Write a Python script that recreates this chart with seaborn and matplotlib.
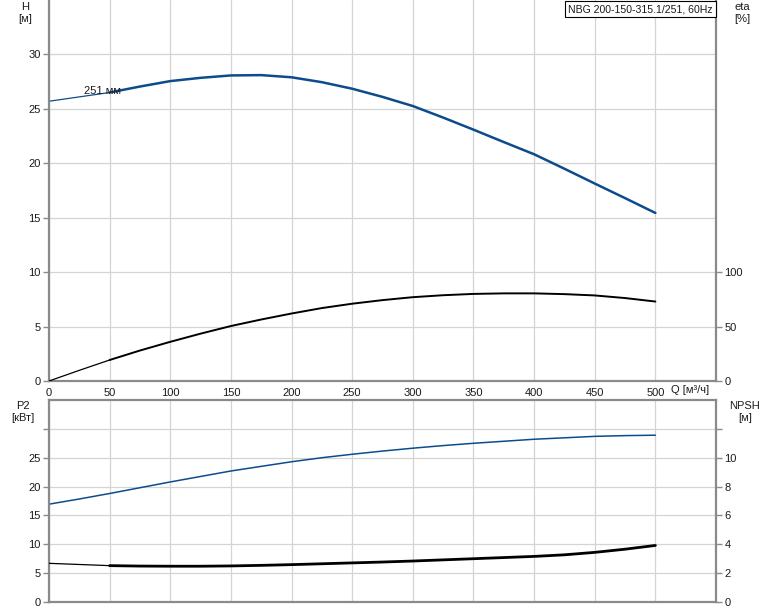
import seaborn as sns
import matplotlib.pyplot as plt
import numpy as np

# flow points [m3/h]
q = [0, 25, 50, 75, 100, 125, 150, 175, 200, 225, 250, 275, 300, 325,
     350, 375, 400, 425, 450, 475, 500]
# head [m]
head = [25.7, 26.1, 26.5, 27.05, 27.55, 27.85, 28.07, 28.1, 27.9, 27.45,
        26.85, 26.1, 25.26, 24.2, 23.09, 21.95, 20.83, 19.5, 18.14, 16.8, 15.44]
# efficiency [%]
eta = [0, 9.8, 19.3, 28, 36, 43.5, 50.5, 56.5, 62, 67, 71, 74.3, 77, 78.8,
       80, 80.5, 80.5, 79.8, 78.6, 76.2, 73]
# power P2 [kW]
p2 = [16.95, 17.85, 18.8, 19.8, 20.8, 21.75, 22.7, 23.5, 24.3, 25.0, 25.6,
      26.15, 26.65, 27.1, 27.5, 27.85, 28.2, 28.45, 28.7, 28.83, 28.9]
# NPSH [m]
npsh = [2.68, 2.6, 2.52, 2.49, 2.48, 2.48, 2.5, 2.54, 2.59, 2.65, 2.71,
        2.77, 2.84, 2.92, 3.0, 3.08, 3.16, 3.27, 3.44, 3.66, 3.92]

title = "NBG 200-150-315.1/251, 60Hz"
curve_label = "251 мм"

sns.set_style("white")
plt.rcParams['font.family'] = ['Liberation Sans', 'DejaVu Sans']

BLUE = "#0d4c8c"
SPINE = "#8a8a8a"
GRID = "#d4d4d4"
TXT = "#1a1a1a"

fig = plt.figure(figsize=(7.74, 6.11), dpi=100)
ax1 = fig.add_axes([49 / 774, 1 - 381 / 611, 667 / 774, 381 / 611])
ax2 = fig.add_axes([49 / 774, 1 - 602 / 611, 667 / 774, 202 / 611])
ax1r = ax1.twinx()
ax2r = ax2.twinx()

cut = 2  # first part of each curve (up to 50 m3/h) is drawn thin


def curve(ax, x, y, color, thick):
    sns.lineplot(x=x[:cut + 1], y=y[:cut + 1], ax=ax, color=color, lw=0.9)
    sns.lineplot(x=x[cut:], y=y[cut:], ax=ax, color=color, lw=thick)


curve(ax1, q, head, BLUE, 1.8)
curve(ax1r, q, eta, "black", 1.4)
sns.lineplot(x=q, y=p2, ax=ax2, color=BLUE, lw=1.1)
curve(ax2r, q, npsh, "black", 2.0)

ax1.text(29, 26.6, curve_label, fontsize=8, color=TXT, va="center")

for ax in (ax1, ax2):
    ax.set_xlim(0, 550)
    ax.set_xticks(np.arange(0, 501, 50))
    ax.grid(True, color=GRID, lw=0.9)
    ax.set_axisbelow(True)
    for s in ("left", "bottom", "right", "top"):
        ax.spines[s].set_color(SPINE)
        ax.spines[s].set_linewidth(1.6)
    ax.tick_params(axis="both", length=4, width=1, color=SPINE, labelsize=8,
                   labelcolor=TXT, pad=2)
    ax.set_xlabel("")
    ax.set_ylabel("")

ax1.spines["top"].set_visible(False)
ax1.set_ylim(0, 35)
ax1.set_yticks(np.arange(0, 31, 5))
ax1.tick_params(axis="x", pad=1)

ax2.set_ylim(0, 35)
ax2.set_yticks(np.arange(0, 31, 5))
ax2.set_yticklabels([str(v) for v in range(0, 26, 5)] + [""])
ax2.set_xticklabels([])
ax2.tick_params(axis="x", length=0)

ax1r.set_ylim(0, 350)
ax1r.set_yticks([0, 50, 100])
ax2r.set_ylim(0, 14)
ax2r.set_yticks(np.arange(0, 13, 2))
ax2r.set_yticklabels([str(v) for v in range(0, 11, 2)] + [""])
for ax in (ax1r, ax2r):
    ax.set_ylabel("")
    ax.tick_params(axis="y", length=4, width=1, color=SPINE, labelsize=8,
                   labelcolor=TXT, pad=2)
    for s in ax.spines.values():
        s.set_visible(False)

lab = dict(ha="center", va="center", fontsize=8, color=TXT, linespacing=1.3)
fig.text(25 / 774, 1 - 13 / 611, "H\n[м]", **lab)
fig.text(742 / 774, 1 - 13 / 611, "eta\n[%]", **lab)
fig.text(23 / 774, 1 - 412 / 611, "P2\n[кВт]", **lab)
fig.text(745 / 774, 1 - 412 / 611, "NPSH\n[м]", **lab)
fig.text(690 / 774, 1 - 390 / 611, "Q [м³/ч]", ha="center", va="center",
         fontsize=8, color=TXT)
fig.text(713 / 774, 1 - 9 / 611, title, ha="right", va="center", fontsize=7.6,
         color=TXT, bbox=dict(boxstyle="square,pad=0.3", fc="white",
                              ec="black", lw=0.8))

fig.savefig("out.png", dpi=100)
